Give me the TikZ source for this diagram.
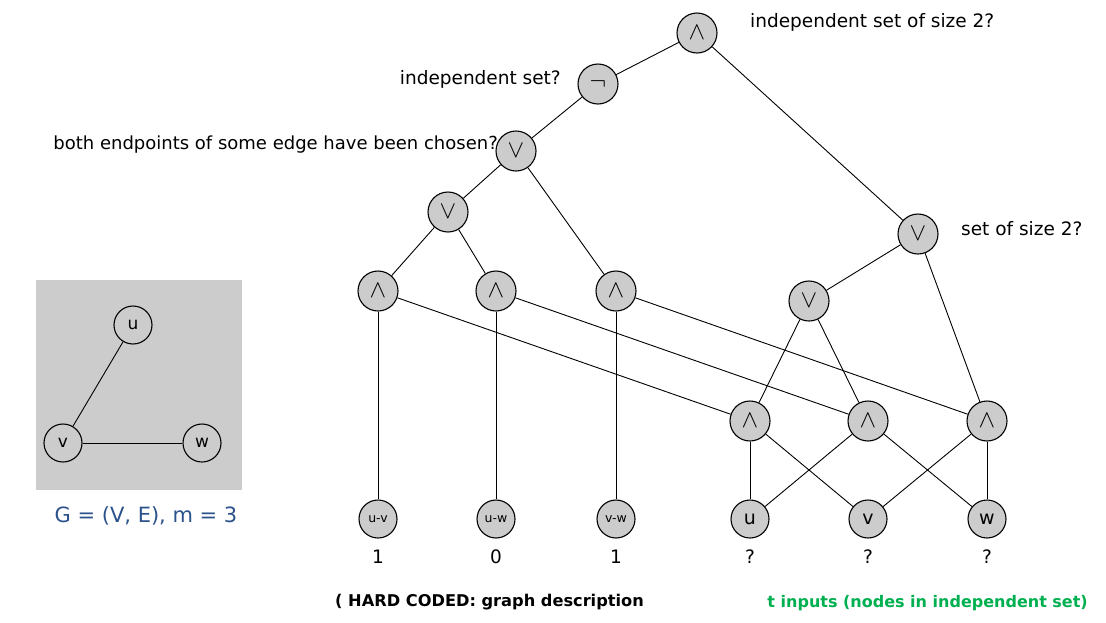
\documentclass[tikz,border=0pt]{standalone}
\usepackage{fontspec}
\setmainfont{DejaVu Sans}
\definecolor{capblue}{RGB}{44,82,140}
\definecolor{inpgreen}{RGB}{0,176,80}
\definecolor{gatefill}{RGB}{204,204,204}
\begin{document}
\begin{tikzpicture}[x=1pt,y=-1pt,
    gate/.style={draw,line width=1.1pt,circle,fill=gatefill,minimum size=40pt,inner sep=0pt,font=\fontsize{24}{24}\selectfont},
    inp/.style={draw,line width=1.1pt,circle,fill=gatefill,minimum size=38pt,inner sep=0pt},
    vert/.style={draw,line width=1.1pt,circle,minimum size=38pt,inner sep=0pt,font=\fontsize{17}{17}\selectfont},
    note/.style={font=\fontsize{18.5}{18.5}\selectfont,inner sep=0pt},
    wire/.style={line width=0.9pt}]
    \useasboundingbox (0,0) rectangle (1106,622);
    % graph G
    \fill[gatefill] (36,280) rectangle (242,490);
    \node (gu) at (133,325) [vert] {u};
    \node (gv) at (63,443) [vert] {v};
    \node (gw) at (202,443) [vert] {w};
    \draw[wire] (gu) -- (gv);
    \draw[wire] (gv) -- (gw);
    \node (gcap) at (146,516) [note,text=capblue,font=\fontsize{21}{21}\selectfont] {G = (V, E), m = 3};
    % circuit
    \node (top) at (697,33) [gate] {$\wedge$};
    \node (neg) at (598,84) [gate] {$\neg$};
    \node (edge) at (516,151) [gate] {$\vee$};
    \node (ora) at (448,212) [gate] {$\vee$};
    \node (anda) at (378,291) [gate] {$\wedge$};
    \node (andb) at (496,291) [gate] {$\wedge$};
    \node (andc) at (616,291) [gate] {$\wedge$};
    \node (size) at (918,234) [gate] {$\vee$};
    \node (orb) at (809,301) [gate] {$\vee$};
    \node (andu) at (750,421) [gate] {$\wedge$};
    \node (andv) at (868,421) [gate] {$\wedge$};
    \node (andw) at (987,421) [gate] {$\wedge$};
    \node (iuv) at (378,519) [inp,font=\fontsize{12.5}{12.5}\selectfont] {u-v};
    \node (iuw) at (496,519) [inp,font=\fontsize{12.5}{12.5}\selectfont] {u-w};
    \node (ivw) at (616,519) [inp,font=\fontsize{12.5}{12.5}\selectfont] {v-w};
    \node (iu) at (750,519) [inp,font=\fontsize{19}{19}\selectfont] {u};
    \node (iv) at (868,519) [inp,font=\fontsize{19}{19}\selectfont] {v};
    \node (iw) at (987,519) [inp,font=\fontsize{19}{19}\selectfont] {w};
    \node (luv) at (378,557) [note] {1};
    \node (luw) at (496,557) [note] {0};
    \node (lvw) at (616,557) [note] {1};
    \node (lu) at (750,557) [note] {?};
    \node (lv) at (868,557) [note] {?};
    \node (lw) at (987,557) [note] {?};
    \draw[wire] (top) -- (neg);
    \draw[wire] (top) -- (size);
    \draw[wire] (neg) -- (edge);
    \draw[wire] (edge) -- (ora);
    \draw[wire] (edge) -- (andc);
    \draw[wire] (ora) -- (anda);
    \draw[wire] (ora) -- (andb);
    \draw[wire] (anda) -- (iuv);
    \draw[wire] (andb) -- (iuw);
    \draw[wire] (andc) -- (ivw);
    \draw[wire] (anda) -- (andu);
    \draw[wire] (andb) -- (andv);
    \draw[wire] (andc) -- (andw);
    \draw[wire] (size) -- (orb);
    \draw[wire] (size) -- (andw);
    \draw[wire] (orb) -- (andu);
    \draw[wire] (orb) -- (andv);
    \draw[wire] (andu) -- (iu);
    \draw[wire] (andu) -- (iv);
    \draw[wire] (andv) -- (iu);
    \draw[wire] (andv) -- (iw);
    \draw[wire] (andw) -- (iv);
    \draw[wire] (andw) -- (iw);
    % labels
    \node (ttop) at (750,22) [note,anchor=west] {independent set of size 2?};
    \node (tneg) at (561,79) [note,anchor=east] {independent set?};
    \node (tedge) at (498,145) [note,anchor=east,font=\fontsize{18}{18}\selectfont] {both endpoints of some edge have been chosen?};
    \node (tsize) at (961,229) [note,anchor=west] {set of size 2?};
    \node (thard) at (335,602) [note,anchor=west,font=\bfseries\fontsize{16.2}{16.2}\selectfont] {( HARD CODED: graph description};
    \node (tinp) at (1088,603) [note,anchor=east,text=inpgreen,font=\bfseries\fontsize{16}{16}\selectfont] {t inputs (nodes in independent set)};
\end{tikzpicture}
\end{document}
